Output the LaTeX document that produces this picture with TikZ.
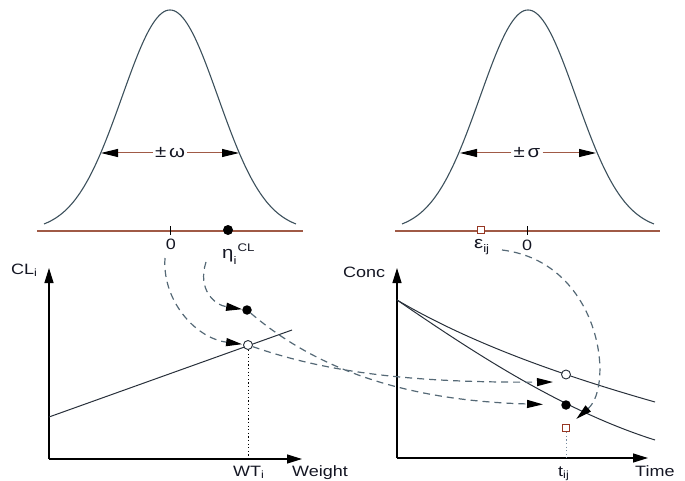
\documentclass[tikz,border=0pt]{standalone}
\usepackage{fontspec}
\setmainfont{Liberation Sans}[FakeStretch=1.2]
\usetikzlibrary{arrows.meta}
\definecolor{basec}{RGB}{160,90,70}
\definecolor{gaussc}{RGB}{60,80,92}
\definecolor{flowc}{RGB}{85,105,118}
\definecolor{plotc}{RGB}{40,48,58}
\definecolor{txtc}{RGB}{20,22,35}
\definecolor{sqc}{RGB}{150,55,35}
\definecolor{dotc}{RGB}{120,140,160}
\begin{document}
\begin{tikzpicture}[x=1pt,y=-1pt,
  gauss/.style={draw=gaussc,line width=1.1pt},
  baseln/.style={draw=basec,line width=1.3pt},
  ticker/.style={draw=black,line width=1pt},
  axisln/.style={draw=black,line width=1.3pt,-{Triangle[length=15pt,width=9pt]}},
  spread/.style={draw=basec,line width=1pt,-{Triangle[length=17pt,width=8pt,color=black]}},
  flow/.style={draw=flowc,line width=1.2pt,dash pattern=on 7pt off 5pt,-{Triangle[length=16pt,width=8pt,color=black]}},
  plotln/.style={draw=plotc,line width=1pt},
  lbl/.style={text=txtc,inner sep=0pt,font=\fontsize{15}{15}\selectfont},
  greek/.style={text=txtc,inner sep=0pt,font=\fontsize{17}{17}\selectfont},
  fdot/.style={circle,fill=black,inner sep=0pt,minimum size=9.5pt},
  odot/.style={circle,draw=plotc,line width=0.9pt,fill=white,inner sep=0pt,minimum size=9pt},
  sqbox/.style={rectangle,draw=sqc,line width=0.9pt,fill=white,inner sep=0pt,minimum size=7.5pt},
  guide/.style={draw=black,line width=0.9pt,dash pattern=on 1.2pt off 2.4pt},
  guidetwo/.style={draw=dotc,line width=0.9pt,dash pattern=on 1.2pt off 2.4pt},
]
\useasboundingbox (0,0) rectangle (685,481);

% ---------- left gaussian ----------
\draw[baseln] (37,231) -- (303,231);
\draw[gauss] plot[domain=-126:126,samples=121,smooth] ({170+\x},{231-221*exp(-0.5*(\x/48)^2)});
\draw[ticker] (170,226) -- (170,235);
\node[lbl,anchor=base] (zeroL) at (171,249) {0};
\node[fdot,minimum size=10pt] (etaDot) at (228,230) {};
\node[greek,anchor=base west] (eta) at (222,258) {η\rlap{\raisebox{-6pt}{\fontsize{11}{11}\selectfont i}}\kern4pt\raisebox{7pt}{\fontsize{11}{11}\selectfont CL}};
\node[greek,inner sep=2pt] (omega) at (170,153) {±\,ω};
\coordinate (wL) at (101,153);
\coordinate (wR) at (239,153);
\draw[spread] (omega) -- (wL);
\draw[spread] (omega) -- (wR);

% ---------- right gaussian ----------
\draw[baseln] (395,231) -- (660,231);
\draw[gauss] plot[domain=-126:126,samples=121,smooth] ({528+\x},{231-221*exp(-0.5*(\x/48)^2)});
\draw[ticker] (527,226) -- (527,235);
\node[lbl,anchor=base] (zeroR) at (527,250) {0};
\node[sqbox] (epsBox) at (481,230) {};
\node[greek,anchor=base west] (eps) at (474,248) {ε\raisebox{-4pt}{\fontsize{11}{11}\selectfont ij}};
\node[greek,inner sep=2pt] (sigma) at (527,153) {±\,σ};
\coordinate (sL) at (460,153);
\coordinate (sR) at (596,153);
\draw[spread] (sigma) -- (sL);
\draw[spread] (sigma) -- (sR);

% ---------- left plot ----------
\coordinate (O1) at (49,459);
\coordinate (Y1) at (49,268);
\coordinate (X1) at (302,459);
\draw[axisln] (O1) -- (Y1);
\draw[axisln] (O1) -- (X1);
\coordinate (L0) at (49,417);
\coordinate (L1) at (292,330);
\draw[plotln] (L0) -- (L1);
\node[odot] (ocCL) at (248,345) {};
\node[fdot] (dotCL) at (247,310) {};
\draw[guide] (ocCL) -- (ocCL |- O1);
\node[lbl,anchor=base west] (clLab) at (11,274) {CL\textsubscript{i}};
\node[lbl,anchor=base west] (wtLab) at (233,476) {WT\textsubscript{i}};
\node[lbl,anchor=base west] (weightLab) at (292,476) {Weight};

% ---------- right plot ----------
\coordinate (O2) at (397,458);
\coordinate (Y2) at (397,268);
\coordinate (X2) at (648,458);
\coordinate (C0) at (397,300);
\coordinate (CU) at (655,402);
\coordinate (CD) at (655,440);
\draw[axisln] (O2) -- (Y2);
\draw[axisln] (O2) -- (X2);
\draw[plotln] (C0) .. controls (470,343) and (560,375) .. (CU);
\draw[plotln] (C0) .. controls (470,350) and (560,410) .. (CD);
\node[odot] (ocC) at (566,374.5) {};
\node[fdot] (dotC) at (566,405) {};
\node[sqbox] (sqC) at (566,428) {};
\draw[guidetwo] (sqC) -- (sqC |- O2);
\node[lbl,anchor=base west] (concLab) at (343,277) {Conc};
\node[lbl,anchor=base west] (tLab) at (558,476) {t\textsubscript{ij}};
\node[lbl,anchor=base west] (timeLab) at (635,476) {Time};

% ---------- dashed flows ----------
\coordinate (fOne) at (165,258);
\coordinate (fTwo) at (206,262);
\coordinate (fFive) at (502,250);
\coordinate (aA) at (553,382);
\draw[flow,shorten >=1pt] (fOne) .. controls (162,300) and (195,338) .. (ocCL);
\draw[flow] (fTwo) .. controls (197,290) and (215,305) .. (dotCL);
\draw[flow,shorten >=18pt] (dotCL) .. controls (300,355) and (380,400) .. (dotC);
\draw[flow] (ocCL) .. controls (320,370) and (400,383) .. (aA);
\draw[flow,shorten >=8pt] (fFive) .. controls (600,262) and (615,385) .. (sqC);
\end{tikzpicture}
\end{document}
